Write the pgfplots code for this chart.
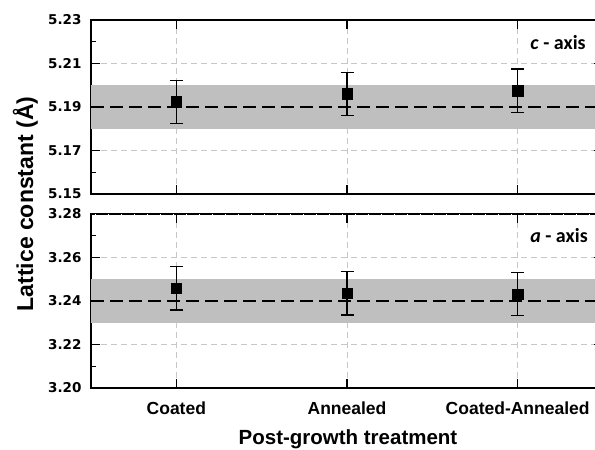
\documentclass[border=0pt]{standalone}
\usepackage{fontspec}
\setmainfont{Liberation Sans}
\newfontfamily\tickfont{DejaVu Sans}
\newfontfamily\calib{Carlito}
\usepackage{pgfplots}
\usepackage{pgfplotstable}
\pgfplotsset{compat=1.18}

\pgfplotstableread{
x y err
0 5.1923 0.010
1 5.1960 0.010
2 5.1975 0.010
}\ctab
\pgfplotstableread{
x y err
0 3.2458 0.010
1 3.2435 0.010
2 3.2432 0.010
}\atab

\pgfplotsset{mystyle/.style={
  scale only axis, width=512pt, height=174pt,
  xmin=-0.5, xmax=2.5, xtick={0,1,2},
  tick align=inside, major tick length=9pt, minor tick length=5pt,
  every tick/.style={line width=1.2pt, black},
  axis line style={line width=1.6pt},
  grid=major,
  major grid style={black!22, dash pattern=on 6pt off 4pt, line width=0.9pt},
  minor y tick num=1,
  /pgf/number format/assume math mode=true,
  yticklabel style={font=\tickfont\bfseries\fontsize{13.5}{13.5}\selectfont, anchor=east, inner sep=0pt, xshift=-9.3pt,
    /pgf/number format/fixed, /pgf/number format/fixed zerofill, /pgf/number format/precision=2},
}}

\begin{document}
\begin{tikzpicture}
\begin{axis}[mystyle, at={(91pt,256pt)}, anchor=south west,
  ymin=5.15, ymax=5.23, ytick={5.15,5.17,5.19,5.21,5.23}, xticklabels={}]
  \addplot[fill=black!25, draw=none, forget plot] coordinates {(-0.5,5.18) (-0.5,5.20) (2.5,5.20) (2.5,5.18)};
  \addplot[black, line width=2.5pt, dash pattern=on 13pt off 6pt, forget plot] coordinates {(-0.5,5.19) (2.5,5.19)};
  \addplot[only marks, mark=square*, mark size=5.3pt, black,
    error bars/.cd, y dir=both, y explicit,
    error bar style={line width=1.3pt},
    error mark options={rotate=90, mark size=6.5pt, line width=1.3pt}]
    table[x=x, y=y, y error=err] {\ctab};
\end{axis}
\begin{axis}[mystyle, at={(91pt,62pt)}, anchor=south west,
  ymin=3.20, ymax=3.28, ytick={3.20,3.22,3.24,3.26,3.28},
  xticklabels={Coated,Annealed,Coated-Annealed},
  xticklabel style={font=\bfseries\fontsize{17.5}{17.5}\selectfont, anchor=base, yshift=-26.3pt}]
  \addplot[fill=black!25, draw=none, forget plot] coordinates {(-0.5,3.23) (-0.5,3.25) (2.5,3.25) (2.5,3.23)};
  \addplot[black, line width=2.5pt, dash pattern=on 13pt off 6pt, forget plot] coordinates {(-0.5,3.24) (2.5,3.24)};
  \addplot[only marks, mark=square*, mark size=5.3pt, black,
    error bars/.cd, y dir=both, y explicit,
    error bar style={line width=1.3pt},
    error mark options={rotate=90, mark size=6.5pt, line width=1.3pt}]
    table[x=x, y=y, y error=err] {\atab};
\end{axis}
\draw[white, line width=0.6pt, dash pattern=on 1pt off 12pt] (95pt,236pt) -- (600pt,236pt);
\node[rotate=90, anchor=base, font=\bfseries\fontsize{23}{23}\selectfont] at (33pt,246pt) {Lattice constant (Å)};
\node[anchor=base, font=\bfseries\fontsize{20.5}{20.5}\selectfont] at (348pt,5pt) {Post-growth treatment};
\node[anchor=base, font=\calib\bfseries\fontsize{20}{20}\selectfont] at (558pt,400pt) {\textit{c} - axis};
\node[anchor=base, font=\calib\bfseries\fontsize{20}{20}\selectfont] at (559pt,207.3pt) {\textit{a} - axis};
\pgfresetboundingbox
\useasboundingbox (0,0) rectangle (595pt,450pt);
\end{tikzpicture}
\end{document}
